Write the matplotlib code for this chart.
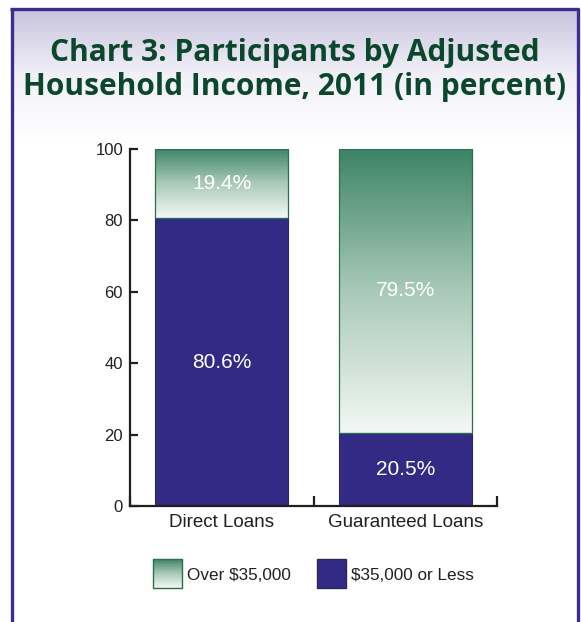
import matplotlib.pyplot as plt
import numpy as np
from matplotlib.colors import LinearSegmentedColormap
from matplotlib.patches import Rectangle

# data
categories = ["Direct Loans", "Guaranteed Loans"]
low_income = [80.6, 20.5]     # $35,000 or Less
high_income = [19.4, 79.5]    # Over $35,000
series_names = ["Over $35,000", "$35,000 or Less"]
y_ticks = [0, 20, 40, 60, 80, 100]
title = "Chart 3: Participants by Adjusted\nHousehold Income, 2011 (in percent)"

NAVY = "#332a86"
GREEN_TOP = "#3d8466"
GREEN_EDGE = "#2b6e4e"
BORDER = "#3a2e8e"
TITLE_GREEN = "#0b472c"
AXIS = "#231f20"

green_cmap = LinearSegmentedColormap.from_list("grn", ["#f4f8f6", "#a9c9b9", GREEN_TOP])
grad = np.linspace(0, 1, 256).reshape(-1, 1)

W, H = 581, 622
fig = plt.figure(figsize=(W / 100, H / 100), dpi=100)

# background layer in pixel coords
bg = fig.add_axes([0, 0, 1, 1])
bg.set_xlim(0, W)
bg.set_ylim(H, 0)
bg.axis("off")
bg_cmap = LinearSegmentedColormap.from_list("bg", ["#ffffff", "#f1f0f7", "#c8c4de"])
bg.imshow(grad, cmap=bg_cmap, aspect="auto", extent=(12, 578, 140, 9), origin="lower", zorder=0)
bg.plot([11.5, 11.5], [8, H], color=BORDER, lw=2.4, solid_capstyle="butt")
bg.plot([577.5, 577.5], [8, H], color=BORDER, lw=2.4, solid_capstyle="butt")
bg.plot([10, 579], [8.5, 8.5], color=BORDER, lw=2.4, solid_capstyle="butt")
bg.text(W / 2 + 4, 70, title, ha="center", va="center", fontsize=21.5,
        fontweight="bold", family="Open Sans", color=TITLE_GREEN, linespacing=1.2)

# legend swatches
swatch_x = [153, 317]
for i, name in enumerate(series_names):
    x0 = swatch_x[i]
    r = Rectangle((x0, 559), 29, 29, facecolor="none" if i == 0 else NAVY,
                  edgecolor=GREEN_EDGE if i == 0 else "#2a2a50", lw=1.0, zorder=3)
    bg.add_patch(r)
    if i == 0:
        im = bg.imshow(grad, cmap=green_cmap, aspect="auto",
                       extent=(x0, x0 + 29, 588, 559), origin="lower", zorder=2)
        im.set_clip_path(r)
    bg.text(x0 + 34, 575, name, ha="left", va="center", fontsize=12.3,
            family="Liberation Sans", color=AXIS)

# main axes
ax = fig.add_axes([130 / W, 1 - 506 / H, 367 / W, 357 / H])
ax.patch.set_visible(False)
x = np.arange(len(categories))
width = 0.725

ax.bar(x, low_income, width, color=NAVY, edgecolor="#2a2a50", lw=0.8, zorder=2)
tops = ax.bar(x, high_income, width, bottom=low_income, facecolor="none",
              edgecolor=GREEN_EDGE, lw=0.9, zorder=3)
for rect in tops:
    x0, y0 = rect.get_x(), rect.get_y()
    im = ax.imshow(grad, cmap=green_cmap, aspect="auto", origin="lower",
                   extent=(x0, x0 + rect.get_width(), y0, y0 + rect.get_height()), zorder=1)
    im.set_clip_path(rect)

for i in range(len(categories)):
    ax.text(x[i], low_income[i] / 2, f"{low_income[i]:.1f}%", ha="center", va="center",
            color="white", fontsize=15, family="Liberation Sans")
    ax.text(x[i], low_income[i] + high_income[i] / 2, f"{high_income[i]:.1f}%",
            ha="center", va="center", color="white", fontsize=15, family="Liberation Sans")

ax.set_xlim(-0.5, len(categories) - 0.5)
ax.set_ylim(0, 100)
for s in ["top", "right"]:
    ax.spines[s].set_visible(False)
for s in ["left", "bottom"]:
    ax.spines[s].set_color(AXIS)
    ax.spines[s].set_linewidth(1.6)

ax.set_yticks(y_ticks)
ax.set_yticklabels([str(t) for t in y_ticks], family="Liberation Sans", fontsize=12, color=AXIS)
ax.tick_params(axis="y", direction="in", length=6, width=1.6, color=AXIS, pad=5)
ax.set_xticks(np.arange(len(categories) + 1) - 0.5)
ax.set_xticklabels([])
ax.tick_params(axis="x", which="major", direction="in", length=7, width=1.6, color=AXIS)
ax.set_xticks(x, minor=True)
ax.set_xticklabels(categories, minor=True, family="Liberation Sans", fontsize=13.5, color=AXIS)
ax.tick_params(axis="x", which="minor", length=0, pad=6)

fig.savefig("out.png", dpi=100)
